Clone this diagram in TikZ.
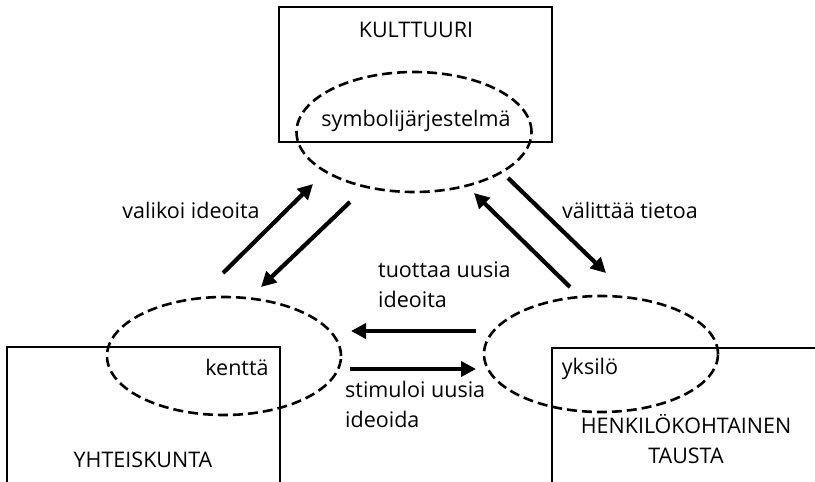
\documentclass[tikz,border=0pt]{standalone}
\usepackage{fontspec}
\setmainfont{Open Sans}
\usetikzlibrary{arrows.meta,shapes.geometric}

\tikzset{
    areabox/.style={draw, line width=2.6pt},
    fieldoval/.style={ellipse, draw, dash pattern=on 10pt off 5pt, line width=2.6pt, inner sep=0pt},
    flow/.style={line width=4.2pt, -{Triangle[length=15pt,width=15pt]}},
    txt/.style={inner sep=0pt, anchor=base}
}

\begin{document}
\begin{tikzpicture}[x=1pt, y=-1pt, font=\fontsize{21.5}{29.5}\selectfont]
    \useasboundingbox (0,0) rectangle (815,482);
    \begin{scope}
        \clip (0,0) rectangle (815,482);
        \draw[areabox] (279,7) rectangle (552,142);
        \draw[areabox] (7,347) rectangle (280,500);
        \draw[areabox] (552,348) rectangle (830,500);
    \end{scope}

    \node[fieldoval, minimum width=235pt, minimum height=120pt] (symb) at (414,132) {};
    \node[fieldoval, minimum width=234pt, minimum height=118pt] (kentta) at (224,356) {};
    \node[fieldoval, minimum width=234pt, minimum height=116pt] (yksilo) at (601,354) {};

    \node[txt] (kult) at (416,37) {KULTTUURI};
    \node[txt] (symbt) at (416,126) {symbolijärjestelmä};
    \node[txt] (yht) at (143,467) {YHTEISKUNTA};
    \node[txt] (kent) at (237,375) {kenttä};
    \node[txt] (yks) at (590,374) {yksilö};
    \node[txt, align=center] (henk) at (686,463) {HENKILÖKOHTAINEN\\TAUSTA};

    \node[txt] (valikoi) at (191,218) {valikoi ideoita};
    \node[txt] (valittaa) at (630,218) {välittää tietoa};
    \node[txt, anchor=base west, align=left] (tuottaa) at (378,307) {tuottaa uusia\\ideoita};
    \node[txt, anchor=base west, align=left] (stimuloi) at (345,427) {stimuloi uusia\\ideoida};

    % arrows between the three
    \coordinate (lu0) at (223,273);  \coordinate (lu1) at (313,184);
    \coordinate (ld0) at (350,202);  \coordinate (ld1) at (261,287);
    \coordinate (ru0) at (570,287);  \coordinate (ru1) at (474,193);
    \coordinate (rd0) at (508,178);  \coordinate (rd1) at (606,273);
    \coordinate (hl0) at (476,331);  \coordinate (hl1) at (351,331);
    \coordinate (hr0) at (350,369);  \coordinate (hr1) at (476,369);

    \draw[flow] (lu0) -- (lu1);
    \draw[flow] (ld0) -- (ld1);
    \draw[flow] (ru0) -- (ru1);
    \draw[flow] (rd0) -- (rd1);
    \draw[flow] (hl0) -- (hl1);
    \draw[flow] (hr0) -- (hr1);
\end{tikzpicture}
\end{document}
